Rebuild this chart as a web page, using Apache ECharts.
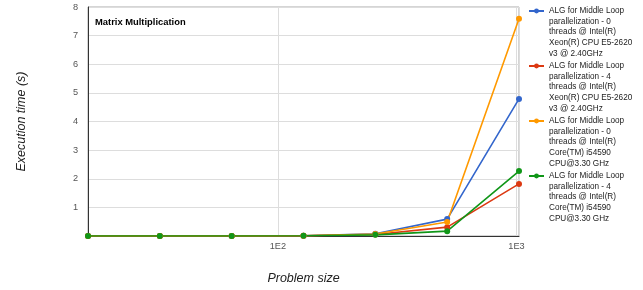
<!DOCTYPE html>
<html>
<head>
<meta charset="utf-8">
<script src="https://cdn.jsdelivr.net/npm/echarts@6/dist/echarts.min.js"></script>
<style>
  html, body { margin: 0; padding: 0; background: #fff; }
  #chart { width: 643px; height: 290px; }
</style>
</head>
<body>
<div id="chart"></div>
<script>
var sizes = [16, 32, 64, 128, 256, 512, 1024]
var names = [
  'ALG for Middle Loop parallelization - 0 threads @ Intel(R) Xeon(R) CPU E5-2620 v3 @ 2.40GHz',
  'ALG for Middle Loop parallelization - 4 threads @ Intel(R) Xeon(R) CPU E5-2620 v3 @ 2.40GHz',
  'ALG for Middle Loop parallelization - 0 threads @ Intel(R) Core(TM) i54590 CPU@3.30 GHz',
  'ALG for Middle Loop parallelization - 4 threads @ Intel(R) Core(TM) i54590 CPU@3.30 GHz'
]
var xeon0 = [0, 0, 0, 0.01, 0.08, 0.59, 4.79]
var xeon4 = [0, 0, 0, 0.01, 0.05, 0.31, 1.82]
var core0 = [0, 0, 0, 0.01, 0.07, 0.49, 7.59]
var core4 = [0, 0, 0, 0.01, 0.04, 0.17, 2.27]
var colors = ['#3366cc', '#dc3912', '#ff9900', '#109618']

function pairs(vals) {
  return sizes.map(function (s, i) { return [s, vals[i]] })
}

// wrap legend names by words (max 19 chars a line); blank lines on top
// keep the icon level with the first line of text
function wrap(text) {
  var lines = [], cur = ''
  text.split(' ').forEach(function (w) {
    if (cur && (cur + ' ' + w).length > 19) {
      lines.push(cur)
      cur = w
    } else {
      cur = cur ? cur + ' ' + w : w
    }
  })
  lines.push(cur)
  var pad = []
  for (var i = 1; i < lines.length; i++) pad.push(' ')
  return pad.concat(lines).join('\n')
}

var font = 'Liberation Sans, Arial, sans-serif'
var lh = 10.6
var myChart = echarts.init(document.getElementById('chart'))

myChart.setOption({
  color: colors,
  animation: false,
  title: {
    text: 'Matrix Multiplication',
    left: 90,
    top: 13,
    textStyle: { fontSize: 9.4, fontWeight: 'bold', color: '#000', fontFamily: font }
  },
  grid: {
    left: 88, top: 7, right: 124, bottom: 54,
    show: true, borderColor: '#aaa', borderWidth: 1
  },
  legend: {
    orient: 'vertical',
    left: 523,
    top: 6 - 4.5 * lh,
    itemWidth: 15,
    itemHeight: 6,
    itemGap: 55 - 9 * lh,
    data: names,
    formatter: wrap,
    textStyle: {
      fontSize: 8.2, lineHeight: lh, color: '#222', fontFamily: font
    }
  },
  xAxis: {
    type: 'log',
    logBase: 10,
    min: 16,
    max: 1024,
    name: 'Problem size',
    nameLocation: 'middle',
    nameGap: 36,
    nameTextStyle: { fontSize: 12.5, fontStyle: 'italic', color: '#222', fontFamily: font },
    axisLine: { lineStyle: { color: '#333' } },
    axisTick: { show: false },
    axisLabel: {
      color: '#555', fontSize: 9.2, fontFamily: font, showMinLabel: false, margin: 6,
      formatter: function (v) { return '1E' + Math.round(Math.log10(v)) }
    },
    splitLine: { show: true, lineStyle: { color: '#ddd' } }
  },
  yAxis: {
    type: 'value',
    min: 0,
    max: 8,
    interval: 1,
    name: 'Execution time (s)',
    nameLocation: 'middle',
    nameGap: 60,
    nameTextStyle: { fontSize: 12.5, fontStyle: 'italic', color: '#222', fontFamily: font },
    axisLine: { show: true, lineStyle: { color: '#333' } },
    axisTick: { show: false },
    axisLabel: {
      color: '#555', fontSize: 9.2, fontFamily: font, margin: 10,
      formatter: function (v) { return v === 0 ? '' : v }
    },
    splitLine: { lineStyle: { color: '#ddd' } }
  },
  series: [xeon0, xeon4, core0, core4].map(function (vals, i) {
    return {
      name: names[i],
      type: 'line',
      data: pairs(vals),
      symbol: 'circle',
      symbolSize: 6,
      lineStyle: { width: 1.6 }
    }
  })
})
</script>
</body>
</html>
